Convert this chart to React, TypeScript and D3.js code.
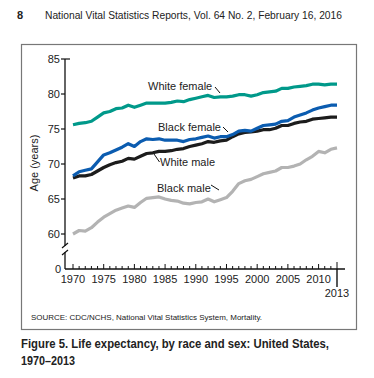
import React from "react";
import { scaleLinear, line, range } from "d3";

const years = range(1970, 2014);

const whiteFemale = [75.6, 75.8, 75.9, 76.1, 76.7, 77.3, 77.5, 77.9, 78.0, 78.4, 78.1, 78.4, 78.7, 78.7, 78.7, 78.7, 78.8, 79.0, 78.9, 79.2, 79.4, 79.6, 79.8, 79.5, 79.6, 79.6, 79.7, 79.9, 79.9, 79.7, 79.9, 80.2, 80.3, 80.4, 80.8, 80.8, 81.0, 81.1, 81.2, 81.4, 81.4, 81.3, 81.4, 81.4];
const blackFemale = [68.3, 68.9, 69.1, 69.3, 70.3, 71.3, 71.6, 72.0, 72.4, 72.9, 72.5, 73.2, 73.6, 73.5, 73.6, 73.4, 73.4, 73.4, 73.2, 73.5, 73.6, 73.8, 74.0, 73.7, 73.9, 73.9, 74.2, 74.7, 74.8, 74.7, 75.1, 75.5, 75.6, 75.7, 76.1, 76.2, 76.7, 77.0, 77.3, 77.7, 78.0, 78.2, 78.4, 78.4];
const whiteMale = [68.0, 68.3, 68.3, 68.5, 69.0, 69.5, 69.9, 70.2, 70.4, 70.8, 70.7, 71.1, 71.5, 71.6, 71.8, 71.8, 71.9, 72.1, 72.2, 72.5, 72.7, 72.9, 73.2, 73.1, 73.3, 73.4, 73.9, 74.3, 74.5, 74.6, 74.7, 74.9, 74.9, 75.1, 75.5, 75.5, 75.8, 76.0, 76.1, 76.4, 76.5, 76.6, 76.7, 76.7];
const blackMale = [60.0, 60.5, 60.4, 60.9, 61.7, 62.4, 62.9, 63.4, 63.7, 64.0, 63.8, 64.5, 65.1, 65.2, 65.3, 65.0, 64.8, 64.7, 64.4, 64.3, 64.5, 64.6, 65.0, 64.6, 64.9, 65.2, 66.1, 67.2, 67.6, 67.8, 68.2, 68.6, 68.8, 69.0, 69.5, 69.5, 69.7, 70.0, 70.6, 71.1, 71.8, 71.6, 72.1, 72.3];

const yTicks = [60, 65, 70, 75, 80, 85];
const xTickLabels = [1970, 1975, 1980, 1985, 1990, 1995, 2000, 2005, 2010];

const series = [
  { name: "Black male", values: blackMale, color: "#b3b3b3" },
  { name: "White male", values: whiteMale, color: "#1c1c1c" },
  { name: "Black female", values: blackFemale, color: "#0b5cb0" },
  { name: "White female", values: whiteFemale, color: "#00998a" },
];

const font = "'Liberation Sans', Arial, Helvetica, sans-serif";
// condensed look for the caption, squeezed horizontally
const sx = 0.8;

export default function App() {
  const x = scaleLinear().domain([1970, 2013]).range([73, 337]);
  const y = scaleLinear().domain([60, 85]).range([234, 59]);
  const axisX = 65;
  const axisY = 269;

  const gen = line<number>()
    .x((_, i) => x(years[i]))
    .y((d) => y(d));

  return (
    <div style={{ position: "absolute", left: 0, top: 0 }}>
      <svg width={374} height={378} style={{ display: "block", fontFamily: font }}>
        <rect width={374} height={378} fill="#fff" />
        {/* header */}
        <text x={17} y={19} fontSize={11} fontWeight="bold" fill="#222">8</text>
        <text x={45} y={19} fontSize={11} fill="#222" textLength={297} lengthAdjust="spacingAndGlyphs">
          National Vital Statistics Reports, Vol. 64 No. 2, February 16, 2016
        </text>

        {/* frame */}
        <rect x={21.5} y={44.5} width={335} height={285} fill="none" stroke="#777" strokeWidth={1.2} />

        {/* y axis */}
        <line x1={axisX} x2={axisX} y1={y(85)} y2={246} stroke="#111" strokeWidth={1.3} />
        <line x1={axisX} x2={axisX} y1={252} y2={axisY} stroke="#111" strokeWidth={1.3} />
        <line x1={62} x2={68} y1={248} y2={243} stroke="#111" strokeWidth={1.2} />
        <line x1={62} x2={68} y1={255} y2={250} stroke="#111" strokeWidth={1.2} />
        {yTicks.map((t) => (
          <g key={t}>
            <line x1={61} x2={t === 85 ? 70 : axisX} y1={y(t)} y2={y(t)} stroke="#111" strokeWidth={1.2} />
            <text x={60} y={y(t) + 4} fontSize={11} textAnchor="end" fill="#222">{t}</text>
          </g>
        ))}
        <text x={61} y={axisY + 4} fontSize={11} textAnchor="end" fill="#222">0</text>
        <text transform="translate(38,163) rotate(-90)" fontSize={11} textAnchor="middle" fill="#222">
          Age (years)
        </text>

        {/* x axis */}
        <line x1={axisX} x2={345} y1={axisY} y2={axisY} stroke="#111" strokeWidth={1.3} />
        {years.map((yr) => {
          const major = yr % 5 === 0;
          const last = yr === 2013;
          return (
            <line
              key={yr}
              x1={x(yr)}
              x2={x(yr)}
              y1={axisY}
              y2={last ? axisY - 7 : major ? axisY - 5 : axisY - 3}
              stroke="#111"
              strokeWidth={1}
            />
          );
        })}
        <line x1={x(2013)} x2={x(2013)} y1={axisY} y2={287} stroke="#111" strokeWidth={1.4} />
        {xTickLabels.map((t) => (
          <text key={t} x={x(t)} y={282.5} fontSize={11} textAnchor="middle" fill="#222">{t}</text>
        ))}
        <text x={x(2013)} y={297} fontSize={11} textAnchor="middle" fill="#222">2013</text>

        {/* series */}
        {series.map((s) => (
          <path key={s.name} d={gen(s.values) ?? ""} fill="none" stroke={s.color} strokeWidth={3.2} strokeLinejoin="round" />
        ))}

        {/* labels */}
        <text x={148} y={90} fontSize={11} fill="#222">White female</text>
        <line x1={215} x2={220} y1={87} y2={93} stroke="#111" strokeWidth={1} />
        <text x={158} y={131} fontSize={11} fill="#222">Black female</text>
        <line x1={223} x2={228} y1={127} y2={132} stroke="#111" strokeWidth={1} />
        <text x={160} y={166} fontSize={11} fill="#222">White male</text>
        <line x1={154} x2={159.5} y1={154} y2={162} stroke="#111" strokeWidth={1} />
        <text x={157} y={192} fontSize={11} fill="#222">Black male</text>
        <line x1={211} x2={219} y1={185} y2={190} stroke="#111" strokeWidth={1} />

        {/* source */}
        <text x={31} y={320} fontSize={8} fill="#222" textLength={231} lengthAdjust="spacingAndGlyphs">
          SOURCE: CDC/NCHS, National Vital Statistics System, Mortality.
        </text>

        {/* title */}
        <g transform={`scale(${sx},1)`}>
          <text x={21 / sx} y={348} fontSize={13.5} fontWeight="bold" fill="#222" textLength={308 / sx} lengthAdjust="spacingAndGlyphs">
            Figure 5. Life expectancy, by race and sex: United States,
          </text>
          <text x={21 / sx} y={365} fontSize={13.5} fontWeight="bold" fill="#222" textLength={54 / sx} lengthAdjust="spacingAndGlyphs">
            1970–2013
          </text>
        </g>
      </svg>
    </div>
  );
}
